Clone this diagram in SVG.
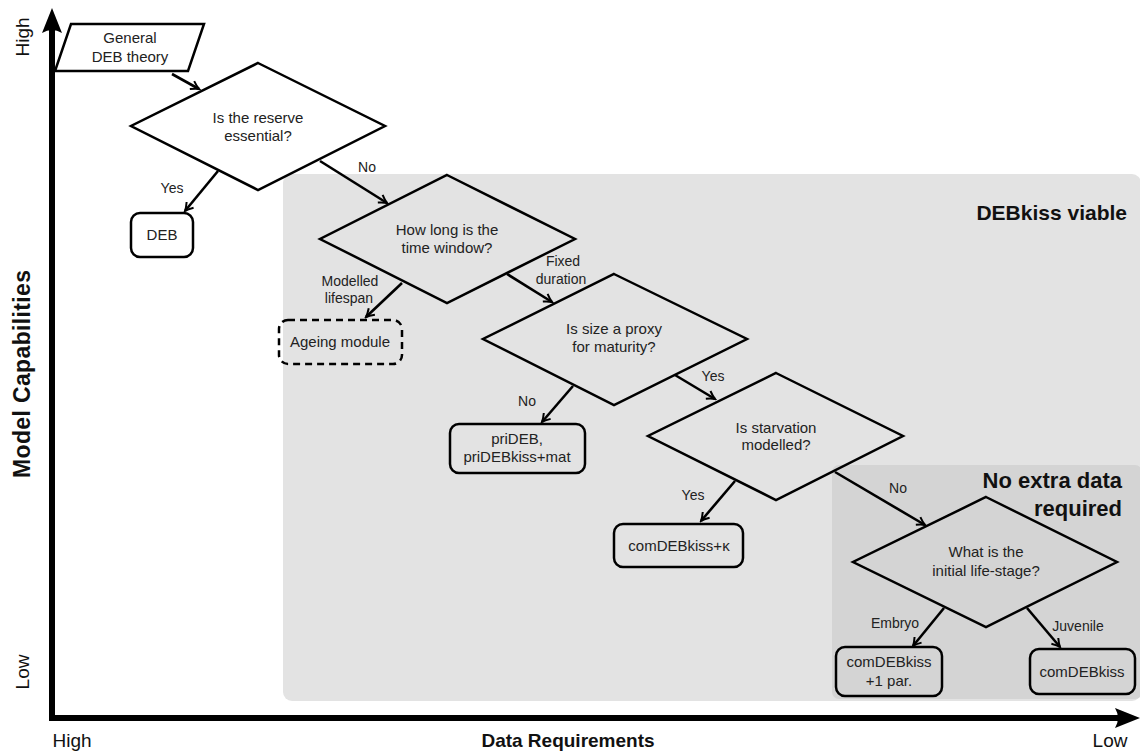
<svg xmlns="http://www.w3.org/2000/svg" width="1140" height="752" viewBox="0 0 1140 752">
<style>
.t{font-family:"Liberation Sans",Arial,sans-serif;font-size:15px;fill:#222;text-anchor:middle}
.l{font-family:"Liberation Sans",Arial,sans-serif;font-size:14px;fill:#222;text-anchor:middle}
.b{font-family:"Liberation Sans",Arial,sans-serif;font-weight:bold;fill:#111}
.ax{font-family:"Liberation Sans",Arial,sans-serif;font-size:19px;fill:#111;text-anchor:middle}
.shape{fill:none;stroke:#000;stroke-width:2.5;stroke-linejoin:miter}
.box{fill:none;stroke:#000;stroke-width:2.5}
.c{stroke:#000;stroke-width:2.6;fill:none;marker-end:url(#ah)}
</style>
<defs>
<marker id="ah" viewBox="-10 -6 12 12" refX="0" refY="0" markerWidth="12" markerHeight="12" markerUnits="userSpaceOnUse" orient="auto">
<path d="M-8,-4.5 Q-3,-1 0,0 Q-3,1 -8,4.5" fill="none" stroke="#000" stroke-width="2"/>
</marker>
</defs>
<rect width="1140" height="752" fill="#fff"/>
<g id="region-debkiss">
<rect x="283" y="174" width="858" height="527" rx="9" fill="#e3e3e3"/>
<text class="b" x="1127" y="220" font-size="21" text-anchor="end">DEBkiss viable</text>
</g>
<g id="region-noextra">
<rect x="832" y="465" width="310" height="234" rx="7" fill="#d4d4d4"/>
<text class="b" x="1122" y="488" font-size="22" text-anchor="end">No extra data</text>
<text class="b" x="1122" y="516" font-size="22" text-anchor="end">required</text>
</g>
<g id="axes">
<line x1="52" y1="720" x2="52" y2="22" stroke="#000" stroke-width="6"/>
<path d="M52,8 L62,33 Q52,27 42,33 Z" fill="#000"/>
<line x1="49" y1="718" x2="1126" y2="718" stroke="#000" stroke-width="6"/>
<path d="M1140,718 L1115,728 Q1121,718 1115,708 Z" fill="#000"/>
<text class="ax" transform="translate(29,37) rotate(-90)">High</text>
<text class="ax" transform="translate(29,672) rotate(-90)">Low</text>
<text class="ax b" style="font-size:23px" textLength="208" lengthAdjust="spacing" transform="translate(30,374) rotate(-90)">Model Capabilities</text>
<text class="ax b" x="568" y="747">Data Requirements</text>
<text class="ax" x="72" y="747">High</text>
<text class="ax" x="1110" y="747">Low</text>
</g>
<g id="n-general">
<path class="shape" d="M71,24 L204,24 L188,71 L55,71 Z"/>
<text class="t" x="130" y="43">General</text>
<text class="t" x="130" y="62">DEB theory</text>
</g>
<g id="n-reserve">
<path class="shape" d="M258,63 L385,126 L258,190 L131,126 Z"/>
<text class="t" x="258" y="123">Is the reserve</text>
<text class="t" x="258" y="141">essential?</text>
</g>
<g id="n-deb">
<rect class="box" x="131" y="213" width="62" height="44" rx="9"/>
<text class="t" x="162" y="240">DEB</text>
</g>
<g id="n-time">
<path class="shape" d="M447,175 L575,239 L447,303 L320,239 Z"/>
<text class="t" x="447" y="235">How long is the</text>
<text class="t" x="447" y="253">time window?</text>
</g>
<g id="n-ageing">
<rect x="279" y="320" width="123" height="44" rx="9" fill="none" stroke="#000" stroke-width="2.5" stroke-dasharray="7,5"/>
<text class="t" x="340" y="347">Ageing module</text>
</g>
<g id="n-size">
<path class="shape" d="M614,274 L747,339 L614,405 L483,339 Z"/>
<text class="t" x="614" y="334">Is size a proxy</text>
<text class="t" x="614" y="352">for maturity?</text>
</g>
<g id="n-prideb">
<rect class="box" x="450" y="424" width="135" height="49" rx="9"/>
<text class="t" x="517" y="444">priDEB,</text>
<text class="t" x="517" y="462">priDEBkiss+mat</text>
</g>
<g id="n-starv">
<path class="shape" d="M776,373 L903,436 L776,500 L648,436 Z"/>
<text class="t" x="776" y="433">Is starvation</text>
<text class="t" x="776" y="450">modelled?</text>
</g>
<g id="n-comk">
<rect class="box" x="614" y="524" width="129" height="43" rx="9"/>
<text class="t" x="679" y="551">comDEBkiss+κ</text>
</g>
<g id="n-life">
<path class="shape" d="M986,497 L1117,562 L986,627 L853,562 Z"/>
<text class="t" x="986" y="557">What is the</text>
<text class="t" x="986" y="576">initial life-stage?</text>
</g>
<g id="n-com1">
<rect class="box" x="836" y="647" width="106" height="49" rx="9"/>
<text class="t" x="889" y="667">comDEBkiss</text>
<text class="t" x="889" y="686">+1 par.</text>
</g>
<g id="n-com">
<rect class="box" x="1030" y="649" width="105" height="45" rx="9"/>
<text class="t" x="1082" y="677">comDEBkiss</text>
</g>
<g id="connectors">
<line class="c" x1="172" y1="74" x2="199" y2="89"/>
<line class="c" x1="218" y1="171" x2="185" y2="211"/>
<line class="c" x1="320" y1="161" x2="387" y2="203"/>
<line class="c" x1="402" y1="283" x2="366" y2="317"/>
<line class="c" x1="507" y1="274" x2="552" y2="302"/>
<line class="c" x1="573" y1="386" x2="542" y2="422"/>
<line class="c" x1="675" y1="375" x2="715" y2="399"/>
<line class="c" x1="735" y1="481" x2="701" y2="521"/>
<line class="c" x1="835" y1="472" x2="925" y2="525"/>
<line class="c" x1="944" y1="608" x2="913" y2="646"/>
<line class="c" x1="1027" y1="608" x2="1060" y2="647"/>
</g>
<g id="labels">
<text class="l" x="172" y="193">Yes</text>
<text class="l" x="367" y="172">No</text>
<text class="l" x="350" y="286">Modelled</text>
<text class="l" x="349" y="303">lifespan</text>
<text class="l" x="563" y="266">Fixed</text>
<text class="l" x="561" y="284">duration</text>
<text class="l" x="527" y="406">No</text>
<text class="l" x="713" y="381">Yes</text>
<text class="l" x="693" y="500">Yes</text>
<text class="l" x="898" y="493">No</text>
<text class="l" x="895" y="628">Embryo</text>
<text class="l" x="1078" y="631">Juvenile</text>
</g>
</svg>
